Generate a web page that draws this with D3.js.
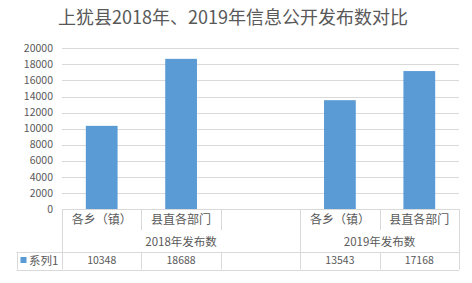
<!DOCTYPE html>
<html>
<head>
<meta charset="utf-8">
<script src="https://cdn.jsdelivr.net/npm/d3@7/dist/d3.min.js"></script>
<style>
  html, body { margin: 0; padding: 0; background: #fff; }
  svg { display: block; }
</style>
</head>
<body>
<div id="vis"></div>
<script>
// chart data
var title = "上犹县2018年、2019年信息公开发布数对比";
var seriesName = "系列1";
var categoryLabels = ["各乡（镇）", "县直各部门", "", "各乡（镇）", "县直各部门"];
var groupLabels = ["2018年发布数", "2018年发布数", "2018年发布数", "2019年发布数", "2019年发布数"];
var values = [10348, 18688, null, 13543, 17168];
var yMax = 20000;
var yStep = 2000;

var W = 472, H = 283;
var font = `"Noto Sans CJK SC", "Noto Sans", "Liberation Sans", sans-serif`;
var textColor = "#595959";
var lineColor = "#d9d9d9";
var barColor = "#5b9bd5";

var plot = { left: 62, right: 459, top: 48.3, bottom: 209 };
var row1Bottom = 230, row2Bottom = 252, row3Bottom = 269.5, legendLeft = 16.5;

var svg = d3.select("#vis")
    .append("svg")
    .attr("width", W)
    .attr("height", H)
    .style("font-family", font);

var keys = values.map((d, i) => i);

var x = d3.scaleBand()
    .domain(keys)
    .range([plot.left, plot.right])
    .paddingInner(0.6)
    .paddingOuter(0.3);

// band without padding for table cells
var cell = d3.scaleBand()
    .domain(keys)
    .range([plot.left, plot.right])
    .padding(0);

var y = d3.scaleLinear()
    .domain([0, yMax])
    .range([plot.bottom, plot.top]);

var ticks = d3.range(0, yMax + 1, yStep);

// title
svg.append("text")
    .attr("x", 233)
    .attr("y", 24)
    .attr("text-anchor", "middle")
    .style("font-size", "18px")
    .attr("fill", textColor)
    .text(title);

// gridlines
svg.append("g")
    .selectAll("line")
    .data(ticks.filter(t => t > 0))
    .join("line")
    .attr("x1", plot.left)
    .attr("x2", plot.right)
    .attr("y1", d => Math.round(y(d)) + 0.5)
    .attr("y2", d => Math.round(y(d)) + 0.5)
    .attr("stroke", lineColor)
    .attr("stroke-width", 1);

// y tick labels
svg.append("g")
    .selectAll("text")
    .data(ticks)
    .join("text")
    .attr("x", 53)
    .attr("y", d => y(d))
    .attr("dy", "0.35em")
    .attr("text-anchor", "end")
    .style("font-size", "10.5px")
    .attr("fill", textColor)
    .text(d => d);

// bars
svg.append("g")
    .selectAll("rect")
    .data(keys.filter(i => values[i] !== null))
    .join("rect")
    .attr("x", i => x(i))
    .attr("width", x.bandwidth())
    .attr("y", i => y(values[i]))
    .attr("height", i => y(0) - y(values[i]))
    .attr("fill", barColor);

// table lines
var tbl = svg.append("g")
    .attr("stroke", lineColor)
    .attr("stroke-width", 1)
    .attr("fill", "none");

var hline = (x1, x2, yy) => tbl.append("line")
    .attr("x1", x1).attr("x2", x2)
    .attr("y1", Math.round(yy) + 0.5).attr("y2", Math.round(yy) + 0.5);
var vline = (xx, y1, y2) => tbl.append("line")
    .attr("x1", Math.round(xx) + 0.5).attr("x2", Math.round(xx) + 0.5)
    .attr("y1", y1).attr("y2", y2);

hline(plot.left, plot.right, plot.bottom);
hline(legendLeft, plot.right, row2Bottom);
hline(legendLeft, plot.right, row3Bottom);
vline(legendLeft, row2Bottom, row3Bottom);

// group boundaries
var groupNames = Array.from(new Set(groupLabels));
var groupSpans = groupNames.map(g => {
    var idx = keys.filter(i => groupLabels[i] === g);
    return {
        name: g,
        x0: cell(idx[0]),
        x1: cell(idx[idx.length - 1]) + cell.bandwidth()
    };
});

var boundaries = keys.map(i => cell(i)).concat([plot.right]);
boundaries.forEach((bx, i) => {
    var isGroupEdge = i === 0 || i === keys.length || groupLabels[i] !== groupLabels[i - 1];
    if (isGroupEdge) {
        vline(bx, plot.bottom, row3Bottom);
    } else {
        vline(bx, plot.bottom, row1Bottom);
        vline(bx, row2Bottom, row3Bottom);
    }
});

// category labels
svg.append("g")
    .selectAll("text")
    .data(keys)
    .join("text")
    .attr("x", i => cell(i) + cell.bandwidth() / 2)
    .attr("y", 220)
    .attr("dy", "0.35em")
    .attr("text-anchor", "middle")
    .style("font-size", "12px")
    .attr("fill", textColor)
    .text(i => categoryLabels[i]);

// group labels
svg.append("g")
    .selectAll("text")
    .data(groupSpans)
    .join("text")
    .attr("x", d => (d.x0 + d.x1) / 2)
    .attr("y", 241.5)
    .attr("dy", "0.35em")
    .attr("text-anchor", "middle")
    .style("font-size", "11.5px")
    .attr("fill", textColor)
    .text(d => d.name);

// data values
svg.append("g")
    .selectAll("text")
    .data(keys)
    .join("text")
    .attr("x", i => cell(i) + cell.bandwidth() / 2)
    .attr("y", 260.5)
    .attr("dy", "0.35em")
    .attr("text-anchor", "middle")
    .style("font-size", "10.5px")
    .attr("fill", textColor)
    .text(i => values[i] === null ? "" : values[i]);

// legend key
svg.append("rect")
    .attr("x", 20.5)
    .attr("y", 257)
    .attr("width", 6)
    .attr("height", 6)
    .attr("fill", barColor);

svg.append("text")
    .attr("x", 29)
    .attr("y", 260.5)
    .attr("dy", "0.35em")
    .style("font-size", "11.5px")
    .attr("fill", textColor)
    .text(seriesName);
</script>
</body>
</html>
